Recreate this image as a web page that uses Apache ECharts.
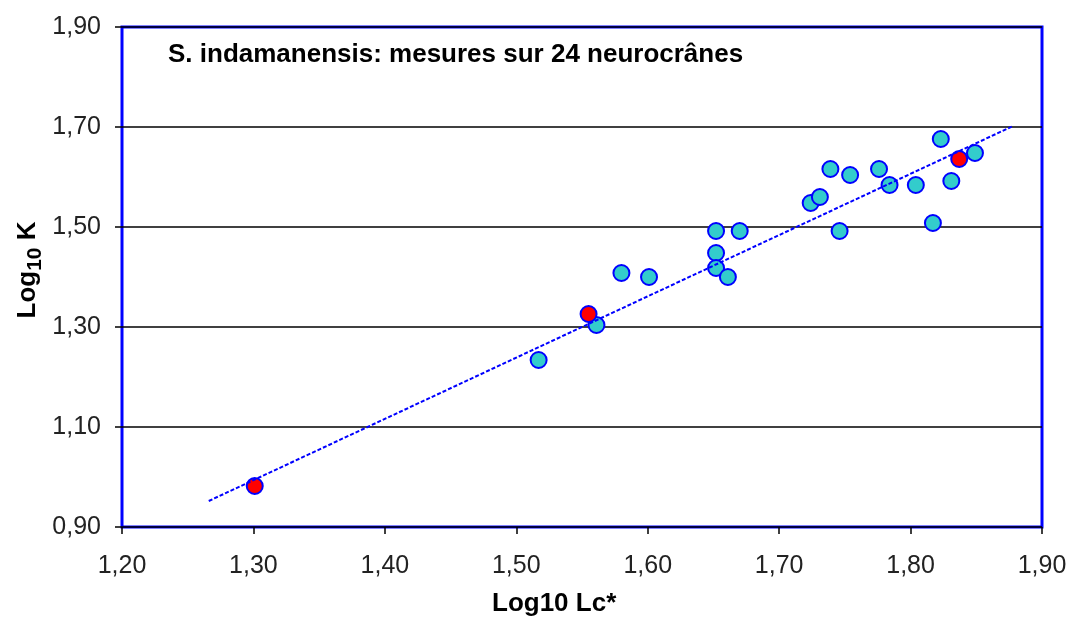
<!DOCTYPE html>
<html>
<head>
<meta charset="utf-8">
<script src="https://cdn.jsdelivr.net/npm/echarts@6/dist/echarts.min.js"></script>
<style>html,body{margin:0;padding:0;background:#fff}#c{width:1070px;height:619px}</style>
</head>
<body>
<div id="c"></div>
<script>
// Cyan measurements (log10 Lc*, log10 K)
const cyanX = [1.517, 1.561, 1.580, 1.601, 1.652, 1.670, 1.652, 1.652, 1.661, 1.724, 1.731,
               1.739, 1.754, 1.746, 1.776, 1.784, 1.804, 1.817, 1.823, 1.831, 1.849];
const cyanY = [1.234, 1.304, 1.408, 1.400, 1.492, 1.492, 1.448, 1.418, 1.400, 1.548, 1.560,
               1.616, 1.604, 1.492, 1.616, 1.584, 1.584, 1.508, 1.676, 1.592, 1.648];
// Red highlighted measurements
const redX = [1.301, 1.555, 1.837];
const redY = [0.982, 1.326, 1.636];
// Regression line endpoints
const lineX = [1.266, 1.878];
const lineY = [0.952, 1.702];
// Axis ticks
const yTicks = [0.9, 1.1, 1.3, 1.5, 1.7, 1.9];
const xTicks = [1.2, 1.3, 1.4, 1.5, 1.6, 1.7, 1.8, 1.9];

const pair = (xs, ys) => xs.map((x, i) => [x, ys[i]]);
const fmt = v => v.toFixed(2).replace('.', ',');
const FONT = '"Liberation Sans", Arial, sans-serif';

const chart = echarts.init(document.getElementById('c'), null, {renderer: 'canvas'});
chart.setOption({
  animation: false,
  backgroundColor: '#fff',
  grid: {left: 122, right: 28, top: 27, bottom: 92, show: true,
         borderColor: '#0000ff', borderWidth: 3, backgroundColor: 'transparent'},
  title: [{
    text: 'S. indamanensis: mesures sur 24 neurocrânes',
    left: 163, top: 37,
    textStyle: {fontFamily: FONT, fontWeight: 'bold', fontSize: 26, color: '#000'}
  }, {
    text: 'Log10 Lc*',
    left: 487, top: 586,
    textStyle: {fontFamily: FONT, fontWeight: 'bold', fontSize: 26, color: '#000'}
  }],
  graphic: [{
    type: 'text', x: 28, y: 270, rotation: Math.PI / 2,
    style: {
      text: '{a|Log}{b|10}{a| K}',
      align: 'center', verticalAlign: 'middle',
      rich: {
        a: {fontFamily: FONT, fontWeight: 'bold', fontSize: 26, fill: '#000', verticalAlign: 'middle'},
        b: {fontFamily: FONT, fontWeight: 'bold', fontSize: 21, fill: '#000', verticalAlign: 'bottom', padding: [14, 0, 0, 0]}
      }
    }
  }],
  xAxis: {
    type: 'value', min: 1.2, max: 1.9,
    axisLine: {show: false},
    axisTick: {show: true, customValues: xTicks, length: 7, lineStyle: {color: '#000', width: 1.5}},
    axisLabel: {customValues: xTicks, formatter: fmt, margin: 27, fontFamily: FONT, fontSize: 25, color: '#222'},
    splitLine: {show: false}
  },
  yAxis: {
    type: 'value', min: 0.9, max: 1.9,
    axisLine: {show: false},
    axisTick: {show: true, customValues: yTicks, length: 7, lineStyle: {color: '#000', width: 1.5}},
    axisLabel: {customValues: yTicks, formatter: fmt, margin: 21, fontFamily: FONT, fontSize: 25, color: '#222'},
    splitLine: {show: true, lineStyle: {color: '#000', width: 1.5}}
  },
  series: [{
    type: 'scatter', data: pair(cyanX, cyanY), symbol: 'circle', symbolSize: 16,
    itemStyle: {color: '#33cccc', borderColor: '#0000ff', borderWidth: 2, opacity: 1}, z: 3
  }, {
    type: 'scatter', data: pair(redX, redY), symbol: 'circle', symbolSize: 16,
    itemStyle: {color: '#ff0000', borderColor: '#0000ff', borderWidth: 2, opacity: 1}, z: 3
  }, {
    type: 'line', data: pair(lineX, lineY), symbol: 'none',
    lineStyle: {color: '#0000ff', width: 2, type: [4, 2]}, z: 4
  }]
});
</script>
</body>
</html>
